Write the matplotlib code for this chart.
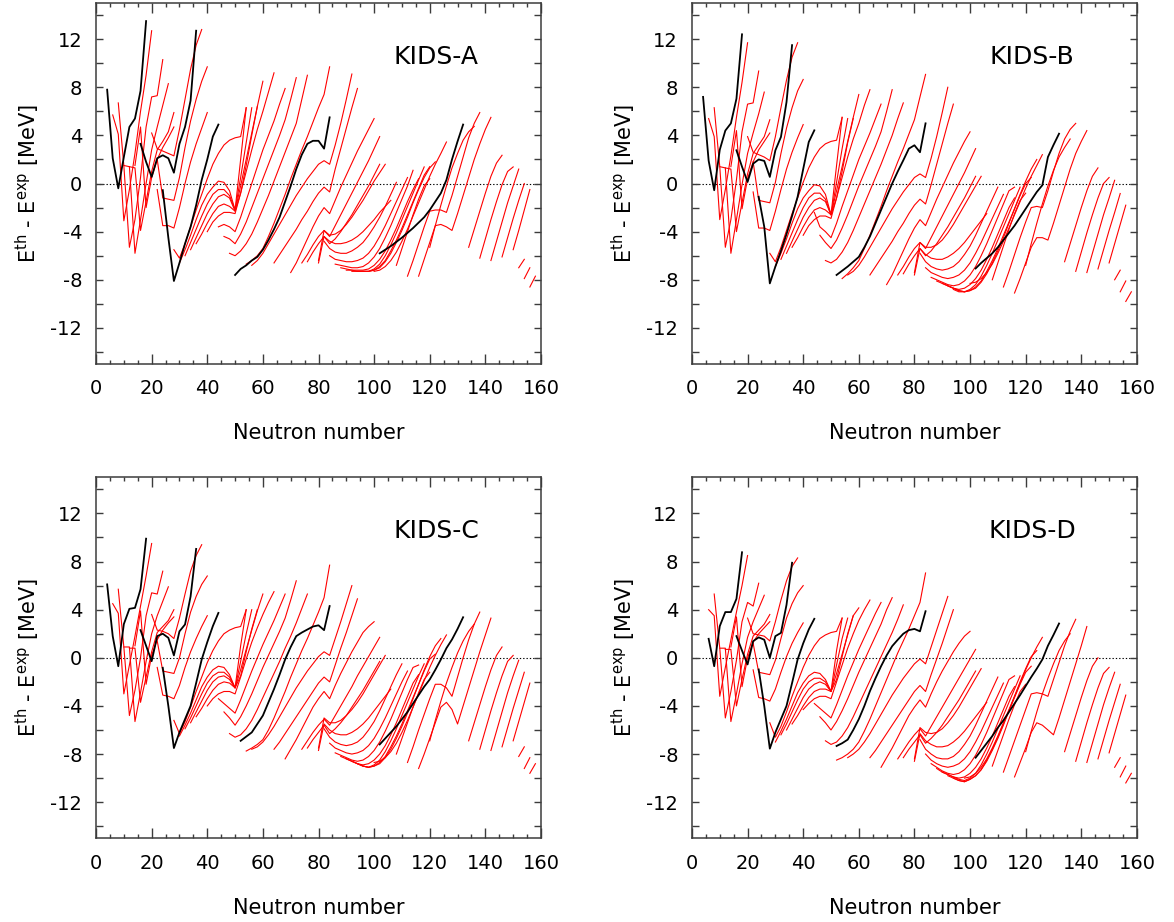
import matplotlib
matplotlib.use("Agg")
import matplotlib.pyplot as plt
from matplotlib.ticker import MultipleLocator

plt.rcParams['font.family'] = ['DejaVu Sans']
plt.rcParams['mathtext.fontset'] = 'dejavusans'

# ---------------- data: chains given as (first neutron number, energies every 2 neutrons)
x_ticks = [0, 20, 40, 60, 80, 100, 120, 140, 160]
y_ticks = [-12, -8, -4, 0, 4, 8, 12]
panel_labels = ["KIDS-A", "KIDS-B", "KIDS-C", "KIDS-D"]

black_a = [
    (4, [7.8, 2.1, -0.4, 2.2, 4.7, 5.4, 7.7, 13.5]),
    (16, [3.3, 1.8, 0.55, 2.1, 2.35, 2.1, 0.9, 3.3, 4.7, 6.9, 12.7]),
    (24, [-0.55, -4.5, -8.1, -6.6, -5.0, -3.6, -1.8, 0.3, 2.0, 3.9, 4.9]),
    (50, [-7.6, -7.1, -6.8, -6.4, -6.1, -5.5, -4.7, -3.8, -2.8, -1.5, -0.2, 1.2, 2.4, 3.3, 3.55, 3.55, 2.9, 5.5]),
    (102, [-5.8, -5.5, -5.2, -4.85, -4.5, -4.1, -3.7, -3.25, -2.8, -2.2, -1.5, -0.8, 0.3, 2.0, 3.5, 4.9]),
]
red_a = [
    (6, [5.7, 4.1, -3.1, -0.5, 2.5, 6.0, 9.0, 12.7]),
    (8, [6.7, 1.5, -5.3, -3.0, 0.5, 4.7, 7.2, 7.3, 10.3]),
    (10, [1.5, 1.4, -5.8, -3.0, 0.0, 2.8, 4.7, 6.5, 8.3]),
    (12, [1.4, 1.3, -3.9, -1.5, 1.0, 2.8, 3.5, 4.3, 5.9]),
    (14, [1.5, 4.7, -2.0, 0.5, 2.0, 3.0, 3.8, 4.7]),
    (20, [4.2, 2.9, 2.7, 2.5, 2.3, 4.5, 7.0, 9.5, 11.5, 12.8]),
    (22, [2.0, -1.2, -1.3, -1.4, 0.5, 3.0, 5.2, 7.0, 8.5, 9.7]),
    (22, [-0.5, -3.5, -3.5, -3.7, -2.0, 0.0, 1.8, 3.3, 4.6, 5.9]),
    (28, [-5.5, -6.2, -5.0, -3.6, -2.2, -0.9, 0.4, 1.6, 2.5, 3.2, 3.6, 3.8, 3.9, 6.3]),
    (30, [-6.6, -5.5, -4.3, -3.0, -1.8, -0.9, -0.3, 0.2, 0.1, -0.6, -2.2, 2.0, 6.3]),
    (32, [-6.0, -4.9, -3.8, -2.7, -1.7, -0.9, -0.5, -0.5, -1.0, -2.2, 0.5, 3.4, 6.3]),
    (34, [-5.5, -4.5, -3.5, -2.5, -1.7, -1.1, -0.9, -1.2, -2.3, -0.8, 1.5, 4.0, 6.4]),
    (36, [-5.0, -4.2, -3.3, -2.5, -1.9, -1.7, -1.9, -2.3, -0.2, 2.0, 4.2, 6.4, 8.5]),
    (40, [-4.0, -3.2, -2.7, -2.4, -2.4, -2.5, -0.8, 1.0, 2.8, 4.5, 6.0, 7.6, 9.2]),
    (44, [-3.6, -3.4, -3.6, -4.0, -2.8, -1.4, 0.0, 1.4, 2.8, 4.0, 5.2, 6.6, 7.9]),
    (46, [-4.4, -4.6, -5.0, -4.2, -3.2, -2.0, -0.8, 0.4, 1.6, 2.8, 4.0, 5.3, 7.0, 8.8]),
    (48, [-5.8, -6.0, -5.6, -5.0, -4.2, -3.2, -2.1, -1.0, 0.2, 1.4, 2.6, 3.8, 5.0, 7.0, 9.0]),
    (54, [-6.7, -6.4, -6.0, -5.4, -4.4, -3.3, -2.1, -0.9, 0.4, 1.6, 2.8, 3.9, 5.1, 6.3, 7.4, 9.7]),
    (56, [-6.8, -6.4, -5.8, -5.0, -4.2, -3.4, -2.6, -1.8, -1.0, -0.3, 0.4, 1.0, 1.6, 1.9, 1.6, 3.2, 5.0, 7.0, 9.1]),
    (64, [-6.6, -5.9, -5.2, -4.5, -3.8, -3.0, -2.3, -1.5, -0.8, -0.3, -0.7, 1.2, 2.9, 4.6, 6.3, 7.9]),
    (70, [-7.4, -6.6, -5.6, -4.6, -3.6, -2.7, -2.0, -2.5, -1.4, -0.3, 0.7, 1.7, 2.7, 3.6, 4.5, 5.4]),
    (74, [-6.6, -5.9, -5.1, -4.4, -3.9, -4.4, -3.5, -2.6, -1.7, -0.8, 0.1, 1.0, 1.9, 2.9, 3.9]),
    (76, [-6.5, -5.7, -5.0, -4.4, -5.0, -4.6, -4.0, -3.3, -2.6, -1.8, -1.0, -0.2, 0.7, 1.6]),
    (80, [-6.4, -3.9, -4.3, -4.2, -3.9, -3.4, -2.8, -2.1, -1.4, -0.6, 0.2, 0.9, 1.6]),
    (80, [-6.6, -4.4, -4.8, -5.0, -5.0, -4.9, -4.7, -4.4, -4.0, -3.5, -3.0, -2.4, -1.9, -1.4]),
    (82, [-4.8, -5.4, -5.7, -5.8, -5.8, -5.6, -5.3, -4.9, -4.3, -3.6, -2.8, -1.9, -0.9, 0.1]),
    (84, [-6.0, -6.3, -6.4, -6.5, -6.5, -6.4, -6.2, -5.8, -5.2, -4.4, -3.5, -2.5, -1.5, -0.5, 0.5]),
    (86, [-6.7, -6.8, -6.9, -7.0, -7.0, -6.9, -6.6, -6.1, -5.4, -4.5, -3.5, -2.4, -1.3, -0.2, 1.1]),
    (88, [-7.0, -7.1, -7.2, -7.2, -7.2, -7.1, -6.8, -6.3, -5.6, -4.7, -3.7, -2.6, -1.5, -0.5, 0.4]),
    (90, [-7.2, -7.2, -7.3, -7.3, -7.3, -7.1, -6.7, -6.0, -5.1, -4.1, -3.0, -1.9, -0.8, 0.3, 1.38]),
    (92, [-7.3, -7.3, -7.3, -7.3, -7.2, -6.9, -6.4, -5.6, -4.7, -3.7, -2.6, -1.5, -0.4, 0.7, 1.4]),
    (94, [-7.3, -7.3, -7.3, -7.2, -7.0, -6.5, -5.8, -4.9, -3.9, -2.8, -1.6, -0.5, 0.5, 1.3, 1.8]),
    (100, [-7.3, -7.2, -6.9, -6.4, -5.7, -4.8, -3.8, -2.7, -1.6, -0.5, 0.6, 1.6, 2.5, 3.45]),
    (108, [-6.8, -5.4, -4.0, -2.6, -1.3, -0.2, 0.4]),
    (112, [-7.7, -6.4, -5.0, -3.6, -2.3, -2.2, -2.2, -2.4, -1.0, 0.6, 2.2, 3.8, 5.0, 5.9]),
    (116, [-7.7, -6.3, -4.9, -3.5, -3.4, -3.6, -3.9, -2.5, -1.0, 0.5, 2.0, 3.3, 4.5, 5.5]),
    (120, [-5.3, -3.5, -1.8, -0.2, 1.3, 2.5, 3.6, 4.3, 4.75]),
    (134, [-5.3, -3.8, -2.3, -0.8, 0.6, 1.7, 2.35]),
    (138, [-6.2, -4.6, -3.0, -1.5, -0.1, 1.0, 1.38]),
    (142, [-6.4, -4.8, -3.2, -1.6, -0.2, 1.2]),
    (146, [-6.1, -4.5, -2.9, -1.4, 0.0]),
    (150, [-5.5, -3.9, -2.2, -0.5]),
    (152, [-7.0, -6.3]),
    (154, [-7.9, -7.0]),
    (156, [-8.6, -7.7]),
]

black_b = [
    (4, [7.2, 1.9, -0.56, 2.8, 4.4, 5.0, 7.05, 12.4]),
    (16, [2.76, 1.4, 0.13, 1.65, 2.0, 1.88, 0.55, 2.76, 3.87, 6.77, 11.5]),
    (24, [-1.1, -3.6, -8.3, -6.9, -5.6, -4.2, -2.7, -1.1, 1.2, 3.45, 4.42]),
    (52, [-7.6, -7.25, -6.9, -6.5, -6.1, -5.3, -4.4, -3.3, -2.2, -1.1, 0.0, 1.0, 1.93, 2.9, 3.18, 2.6, 5.0]),
    (102, [-7.06, -6.6, -6.2, -5.8, -5.3, -4.7, -4.1, -3.5, -2.8, -2.1, -1.39, -0.7, -0.14, 2.2, 3.2, 4.14]),
]
red_b = [
    (6, [5.4, 3.9, -3.0, -0.5, 2.3, 5.5, 8.4, 11.7]),
    (8, [6.3, 1.4, -5.3, -3.0, 0.3, 4.3, 6.6, 6.7, 9.35]),
    (10, [1.4, 1.3, -5.8, -3.0, -0.1, 2.5, 4.2, 5.8, 7.6]),
    (12, [1.3, 1.2, -4.0, -1.6, 0.8, 2.5, 3.2, 3.9, 5.3]),
    (14, [1.4, 4.4, -2.1, 0.4, 1.8, 2.8, 3.5, 4.2]),
    (20, [3.9, 2.6, 2.4, 2.2, 1.9, 3.9, 6.3, 8.6, 10.5, 11.7]),
    (22, [1.8, -1.4, -1.5, -1.6, 0.1, 2.5, 4.6, 6.3, 7.7, 8.65]),
    (22, [-0.7, -3.7, -3.7, -3.9, -2.3, -0.5, 1.2, 2.6, 3.8, 4.9]),
    (28, [-5.8, -6.5, -5.3, -3.9, -2.5, -1.2, 0.1, 1.3, 2.2, 2.9, 3.3, 3.5, 3.6, 5.5]),
    (30, [-6.9, -5.8, -4.6, -3.3, -2.1, -1.2, -0.6, -0.1, -0.2, -0.9, -2.6, 1.5, 5.5]),
    (32, [-6.3, -5.2, -4.1, -3.0, -2.0, -1.2, -0.8, -0.8, -1.3, -2.6, 0.1, 2.9, 5.4]),
    (34, [-5.8, -4.8, -3.8, -2.8, -2.0, -1.4, -1.2, -1.5, -2.6, -1.2, 1.0, 3.4, 5.4]),
    (36, [-5.3, -4.5, -3.6, -2.8, -2.2, -2.0, -2.2, -2.6, -0.6, 1.4, 3.5, 5.5, 7.4]),
    (40, [-4.3, -3.5, -3.0, -2.7, -2.7, -2.9, -1.2, 0.5, 2.2, 3.7, 5.0, 6.5, 7.8]),
    (44, [-2.4, -3.6, -4.0, -4.5, -3.3, -1.9, -0.6, 0.7, 2.0, 3.1, 4.2, 5.4, 6.6]),
    (46, [-4.3, -4.9, -5.4, -4.7, -3.7, -2.6, -1.4, -0.2, 0.9, 2.0, 3.1, 4.3, 6.0, 7.8]),
    (48, [-6.4, -6.6, -6.3, -5.7, -4.9, -3.9, -2.8, -1.7, -0.6, 0.5, 1.6, 2.8, 4.0, 5.4, 6.7]),
    (54, [-7.9, -7.5, -7.0, -6.4, -5.4, -4.3, -3.1, -1.9, -0.6, 0.6, 1.8, 2.9, 4.1, 5.3, 7.2, 9.07]),
    (56, [-7.6, -7.3, -6.8, -6.1, -5.3, -4.5, -3.7, -2.9, -2.1, -1.4, -0.7, -0.1, 0.5, 0.8, 0.5, 2.1, 3.9, 5.9, 8.0]),
    (64, [-7.6, -6.9, -6.2, -5.5, -4.8, -4.0, -3.3, -2.5, -1.8, -1.3, -1.7, -0.1, 1.6, 3.3, 5.0, 6.6]),
    (70, [-8.4, -7.6, -6.6, -5.6, -4.6, -3.7, -3.0, -3.5, -2.4, -1.3, -0.3, 0.7, 1.7, 2.6, 3.5, 4.3]),
    (74, [-7.6, -6.9, -6.1, -5.4, -4.9, -5.4, -4.5, -3.6, -2.7, -1.8, -0.9, 0.0, 0.9, 1.9, 2.9]),
    (76, [-7.5, -6.7, -6.0, -5.4, -6.0, -5.6, -5.0, -4.3, -3.6, -2.8, -2.0, -1.2, -0.3, 0.6]),
    (80, [-7.4, -4.9, -5.3, -5.3, -5.1, -4.7, -4.1, -3.4, -2.6, -1.8, -1.0, -0.2, 0.6]),
    (80, [-7.6, -5.4, -5.9, -6.2, -6.3, -6.3, -6.1, -5.8, -5.4, -4.9, -4.3, -3.7, -3.1, -2.5]),
    (82, [-5.8, -6.5, -6.9, -7.1, -7.2, -7.1, -6.9, -6.5, -5.9, -5.2, -4.3, -3.3, -2.3, -1.3, -0.3]),
    (84, [-7.0, -7.4, -7.6, -7.8, -7.9, -7.8, -7.6, -7.2, -6.6, -5.8, -4.9, -3.9, -2.9, -1.9, -0.9]),
    (86, [-7.8, -8.0, -8.2, -8.4, -8.5, -8.4, -8.1, -7.6, -6.9, -6.0, -5.0, -3.9, -2.8, -1.7, -0.6, -0.3]),
    (88, [-8.1, -8.3, -8.5, -8.7, -8.8, -8.7, -8.4, -7.9, -7.2, -6.3, -5.3, -4.2, -3.1, -2.0, -1.2]),
    (90, [-8.3, -8.5, -8.7, -8.9, -9.0, -8.8, -8.4, -7.7, -6.8, -5.8, -4.7, -3.6, -2.5, -1.4, -0.3]),
    (92, [-8.5, -8.7, -8.9, -9.0, -8.9, -8.6, -8.1, -7.3, -6.4, -5.4, -4.3, -3.2, -2.1, -1.0, 0.0, 0.5]),
    (94, [-8.8, -9.0, -9.0, -8.9, -8.7, -8.2, -7.5, -6.6, -5.6, -4.5, -3.3, -2.1, -0.9, 0.2, 1.2, 2.0]),
    (100, [-8.3, -8.2, -7.9, -7.4, -6.7, -5.8, -4.8, -3.7, -2.6, -1.5, -0.4, 0.6, 1.5, 2.4]),
    (108, [-8.0, -6.6, -5.2, -3.8, -2.5, -1.4, -0.8]),
    (112, [-8.6, -7.3, -5.9, -4.5, -3.2, -2.0, -1.9, -2.0, -0.6, 1.0, 2.5, 3.7, 4.5, 5.0]),
    (116, [-9.1, -7.9, -6.6, -5.3, -4.5, -4.5, -4.7, -3.3, -1.8, -0.3, 1.2, 2.5, 3.5, 4.4]),
    (120, [-6.8, -5.0, -3.3, -1.7, -0.2, 1.1, 2.2, 3.0, 3.7]),
    (134, [-6.5, -5.0, -3.5, -2.0, -0.6, 0.6, 1.3]),
    (138, [-7.3, -5.7, -4.1, -2.6, -1.2, 0.0, 0.5]),
    (142, [-7.4, -5.8, -4.2, -2.6, -1.2, 0.27]),
    (146, [-7.1, -5.5, -3.9, -2.4, -0.83]),
    (150, [-6.6, -5.0, -3.4, -1.8]),
    (152, [-8.0, -7.2]),
    (154, [-9.0, -8.1]),
    (156, [-9.8, -9.0]),
]

black_c = [
    (4, [6.1, 1.8, -0.7, 2.8, 4.07, 4.15, 5.7, 9.9]),
    (16, [2.3, 1.0, -0.28, 1.8, 2.0, 1.66, 0.2, 2.2, 2.77, 5.1, 9.05]),
    (24, [-0.83, -4.0, -7.5, -6.2, -5.1, -4.0, -2.1, -0.14, 1.3, 2.63, 3.73]),
    (52, [-6.9, -6.55, -6.2, -5.5, -4.8, -3.7, -2.6, -1.4, -0.14, 0.9, 1.8, 2.1, 2.35, 2.6, 2.7, 2.3, 4.3]),
    (102, [-7.2, -6.7, -6.2, -5.7, -5.1, -4.5, -3.8, -3.1, -2.4, -1.8, -1.0, -0.14, 0.8, 1.52, 2.4, 3.37]),
]
red_c = [
    (6, [4.5, 3.7, -3.0, -0.6, 1.8, 4.3, 6.8, 9.5]),
    (8, [5.7, 0.9, -4.8, -2.7, 0.0, 3.5, 5.4, 5.3, 7.2]),
    (10, [0.9, 0.9, -5.3, -2.9, -0.3, 2.0, 3.5, 4.7, 5.9]),
    (12, [0.8, 0.8, -3.7, -1.6, 0.5, 2.1, 2.6, 3.1, 4.0]),
    (14, [1.0, 3.9, -2.2, 0.2, 1.5, 2.3, 2.9, 3.4]),
    (20, [3.6, 2.3, 2.2, 2.0, 1.6, 3.3, 5.3, 7.2, 8.5, 9.4]),
    (22, [1.4, -1.1, -1.2, -1.3, 0.0, 2.0, 3.8, 5.1, 6.1, 6.8]),
    (22, [-0.8, -3.1, -3.2, -3.4, -2.3, -0.8, 0.5, 1.6, 2.6, 3.5]),
    (28, [-5.2, -6.3, -5.3, -4.1, -2.8, -1.6, -0.4, 0.6, 1.4, 2.0, 2.3, 2.5, 2.6, 4.0]),
    (30, [-6.5, -5.6, -4.6, -3.5, -2.4, -1.6, -1.0, -0.7, -0.8, -1.4, -2.5, 1.0, 4.0]),
    (32, [-5.9, -5.0, -4.0, -3.0, -2.1, -1.5, -1.2, -1.2, -1.6, -2.5, -0.3, 2.0, 4.0]),
    (34, [-5.4, -4.5, -3.6, -2.7, -2.0, -1.6, -1.5, -1.8, -2.5, -1.5, 0.5, 2.4, 4.0]),
    (36, [-4.9, -4.2, -3.4, -2.7, -2.2, -2.0, -2.1, -2.5, -1.0, 0.7, 2.3, 3.9, 5.3]),
    (40, [-4.0, -3.4, -3.0, -2.8, -2.8, -3.0, -1.6, -0.1, 1.3, 2.5, 3.6, 4.6, 5.5]),
    (44, [-3.4, -3.8, -4.2, -4.6, -3.5, -2.3, -1.1, 0.0, 1.1, 2.1, 3.1, 4.2, 5.3]),
    (46, [-4.5, -5.0, -5.6, -4.9, -4.0, -3.0, -1.9, -0.8, 0.2, 1.2, 2.2, 3.3, 4.8, 6.4]),
    (48, [-6.3, -6.6, -6.4, -5.9, -5.2, -4.3, -3.3, -2.3, -1.3, -0.3, 0.8, 1.8, 2.9, 4.1, 5.3]),
    (54, [-7.75, -7.5, -7.2, -6.8, -6.0, -5.0, -3.9, -2.8, -1.6, -0.5, 0.6, 1.6, 2.7, 3.8, 5.0, 7.7]),
    (56, [-7.6, -7.4, -7.0, -6.4, -5.7, -4.9, -4.1, -3.3, -2.5, -1.8, -1.1, -0.5, 0.1, 0.5, 0.2, 1.6, 3.0, 4.5, 6.0]),
    (64, [-7.6, -7.0, -6.3, -5.6, -4.9, -4.2, -3.5, -2.8, -2.1, -1.6, -2.0, -0.6, 0.8, 2.1, 3.5, 4.9]),
    (68, [-8.4, -7.6, -6.8, -5.9, -5.0, -4.1, -3.4, -2.8, -3.4, -2.3, -1.3, -0.4, 0.5, 1.3, 2.1, 2.6, 3.0]),
    (74, [-7.6, -6.9, -6.2, -5.6, -5.1, -5.6, -4.8, -4.0, -3.2, -2.4, -1.5, -0.7, 0.1, 0.9, 1.7]),
    (76, [-7.5, -6.8, -6.2, -5.6, -6.3, -5.9, -5.4, -4.8, -4.1, -3.4, -2.7, -1.9, -1.1, -0.3]),
    (80, [-7.5, -5.0, -5.4, -5.4, -5.2, -4.8, -4.3, -3.7, -3.0, -2.2, -1.4, -0.6, 0.2]),
    (80, [-7.7, -5.5, -6.0, -6.3, -6.4, -6.4, -6.2, -5.9, -5.5, -5.0, -4.4, -3.8, -3.2, -2.6]),
    (82, [-5.9, -6.6, -7.0, -7.2, -7.3, -7.2, -7.0, -6.6, -6.0, -5.3, -4.4, -3.4, -2.4, -1.4, -0.5]),
    (84, [-7.1, -7.5, -7.7, -7.9, -8.0, -7.9, -7.7, -7.3, -6.7, -5.9, -5.0, -4.0, -3.0, -2.0, -1.1]),
    (86, [-7.9, -8.1, -8.3, -8.5, -8.6, -8.5, -8.2, -7.7, -7.0, -6.1, -5.1, -4.0, -2.9, -1.8, -0.8, -0.6]),
    (88, [-8.2, -8.4, -8.6, -8.8, -8.9, -8.8, -8.5, -8.0, -7.3, -6.4, -5.4, -4.3, -3.2, -2.1, -1.4]),
    (90, [-8.4, -8.6, -8.8, -9.0, -9.1, -8.9, -8.5, -7.8, -6.9, -5.9, -4.8, -3.7, -2.6, -1.5, -0.5]),
    (92, [-8.6, -8.8, -9.0, -9.1, -9.0, -8.7, -8.2, -7.4, -6.5, -5.5, -4.4, -3.3, -2.2, -1.1, -0.1, 0.3]),
    (94, [-8.8, -9.0, -9.1, -9.0, -8.8, -8.3, -7.6, -6.7, -5.7, -4.6, -3.4, -2.2, -1.0, 0.1, 1.0, 1.6]),
    (100, [-8.7, -8.6, -8.3, -7.8, -7.1, -6.2, -5.2, -4.1, -3.0, -1.9, -0.8, 0.2, 1.1, 1.9]),
    (108, [-8.0, -6.7, -5.4, -4.1, -2.9, -1.8, -1.2]),
    (112, [-8.7, -7.4, -6.0, -4.7, -3.4, -2.2, -2.2, -2.5, -3.2, -1.6, 0.0, 1.5, 2.8, 3.8]),
    (116, [-9.2, -8.0, -6.7, -5.4, -4.1, -3.7, -4.3, -5.5, -4.0, -2.5, -1.0, 0.5, 1.9, 3.3]),
    (120, [-6.9, -5.2, -3.6, -2.1, -0.8, 0.4, 1.4, 2.2, 2.8]),
    (134, [-6.9, -5.4, -3.9, -2.4, -1.0, 0.2, 0.9]),
    (138, [-7.6, -6.0, -4.4, -2.9, -1.5, -0.3, 0.2]),
    (142, [-7.7, -6.1, -4.5, -2.9, -1.5, -0.2]),
    (146, [-7.4, -5.8, -4.2, -2.7, -1.2]),
    (150, [-6.9, -5.3, -3.7, -2.1]),
    (152, [-8.2, -7.4]),
    (154, [-9.2, -8.3]),
    (156, [-9.6, -8.8]),
]

black_d = [
    (6, [1.58, -0.7, 2.63, 3.8, 3.8, 4.9, 8.77]),
    (16, [1.8, 0.6, -0.55, 1.38, 1.7, 1.5, 0.0, 1.8, 2.07, 4.4, 7.9]),
    (24, [-0.97, -4.0, -7.55, -6.2, -5.1, -4.0, -2.1, -0.14, 1.2, 2.35, 3.24]),
    (52, [-7.33, -7.1, -6.8, -6.0, -5.1, -4.0, -2.77, -1.7, -0.7, 0.2, 0.97, 1.5, 2.0, 2.3, 2.4, 2.2, 3.87]),
    (102, [-8.3, -7.7, -7.1, -6.5, -5.8, -5.2, -4.5, -3.8, -3.1, -2.35, -1.6, -0.9, -0.14, 1.0, 1.9, 2.85]),
]
red_d = [
    (6, [4.0, 3.5, -3.2, -0.8, 1.5, 3.8, 6.0, 8.5]),
    (8, [5.3, 0.8, -5.0, -2.8, -0.2, 3.0, 4.6, 4.3, 6.2]),
    (10, [0.8, 0.8, -5.3, -3.0, -0.5, 1.7, 3.0, 4.1, 5.2]),
    (12, [0.7, 0.7, -4.0, -1.8, 0.3, 1.8, 2.3, 2.8, 3.6]),
    (14, [0.9, 3.4, -2.4, 0.0, 1.3, 2.0, 2.5, 3.0]),
    (20, [3.3, 2.0, 1.9, 1.8, 1.4, 3.0, 4.8, 6.4, 7.6, 8.3]),
    (22, [1.2, -1.2, -1.3, -1.4, -0.2, 1.6, 3.3, 4.5, 5.4, 6.0]),
    (22, [-1.0, -3.3, -3.4, -3.6, -2.6, -1.2, 0.1, 1.2, 2.1, 2.9]),
    (28, [-5.4, -6.6, -5.7, -4.5, -3.2, -2.0, -0.8, 0.2, 1.0, 1.6, 1.9, 2.1, 2.2, 3.3]),
    (30, [-7.0, -6.1, -5.1, -4.0, -2.9, -2.1, -1.5, -1.2, -1.3, -1.8, -2.8, 0.6, 3.3]),
    (32, [-6.4, -5.5, -4.5, -3.5, -2.6, -2.0, -1.7, -1.7, -2.0, -2.8, -0.6, 1.6, 3.3]),
    (34, [-6.0, -5.1, -4.2, -3.3, -2.6, -2.2, -2.0, -2.2, -2.8, -1.8, 0.1, 2.0, 3.5]),
    (36, [-5.5, -4.8, -4.0, -3.3, -2.8, -2.6, -2.6, -2.8, -1.3, 0.3, 1.9, 3.5, 4.15]),
    (40, [-4.3, -3.8, -3.4, -3.2, -3.2, -3.4, -2.0, -0.6, 0.8, 2.0, 3.1, 4.0, 4.8]),
    (44, [-3.8, -4.2, -4.6, -5.0, -3.9, -2.7, -1.5, -0.4, 0.7, 1.7, 2.7, 3.7, 4.6]),
    (46, [-4.9, -5.4, -6.0, -5.3, -4.4, -3.4, -2.3, -1.2, -0.2, 0.8, 1.8, 2.8, 4.0, 5.0]),
    (48, [-6.9, -7.2, -7.0, -6.5, -5.8, -4.9, -3.9, -2.9, -1.9, -0.9, 0.1, 1.1, 2.1, 3.2, 4.4]),
    (52, [-8.5, -8.3, -8.0, -7.6, -7.0, -6.1, -5.1, -4.0, -2.9, -1.8, -0.7, 0.4, 1.4, 2.4, 3.5, 4.6, 7.05]),
    (56, [-8.3, -8.0, -7.6, -7.0, -6.3, -5.5, -4.7, -3.9, -3.1, -2.4, -1.7, -1.1, -0.5, -0.1, -0.5, 0.9, 2.3, 3.7, 5.1]),
    (64, [-8.3, -7.7, -7.0, -6.3, -5.6, -4.9, -4.2, -3.5, -2.8, -2.3, -2.8, -1.4, -0.1, 1.2, 2.6, 4.0]),
    (68, [-9.1, -8.3, -7.5, -6.6, -5.7, -4.8, -4.1, -3.5, -4.1, -3.0, -2.0, -1.1, -0.3, 0.5, 1.2, 1.8, 2.2]),
    (74, [-8.4, -7.7, -7.0, -6.4, -5.9, -6.5, -5.7, -4.9, -4.1, -3.3, -2.5, -1.7, -0.9, -0.1, 0.7]),
    (76, [-8.3, -7.6, -7.0, -6.4, -7.1, -6.7, -6.2, -5.6, -4.9, -4.2, -3.5, -2.7, -1.9, -1.1]),
    (80, [-8.4, -5.8, -6.2, -6.3, -6.2, -5.9, -5.4, -4.8, -4.1, -3.3, -2.5, -1.7, -0.9]),
    (80, [-8.6, -6.3, -6.9, -7.2, -7.4, -7.4, -7.3, -7.0, -6.6, -6.1, -5.5, -4.9, -4.3, -3.7]),
    (82, [-6.8, -7.6, -8.0, -8.3, -8.4, -8.4, -8.2, -7.8, -7.2, -6.5, -5.6, -4.6, -3.6, -2.6, -1.6]),
    (84, [-8.0, -8.5, -8.8, -9.0, -9.1, -9.0, -8.8, -8.4, -7.8, -7.0, -6.1, -5.1, -4.1, -3.1, -2.1]),
    (86, [-8.8, -9.1, -9.4, -9.6, -9.7, -9.6, -9.3, -8.8, -8.1, -7.2, -6.2, -5.1, -4.0, -2.9, -1.8, -1.5]),
    (88, [-9.2, -9.5, -9.7, -9.9, -10.0, -9.9, -9.6, -9.1, -8.4, -7.5, -6.5, -5.4, -4.3, -3.2, -2.4]),
    (90, [-9.5, -9.7, -9.9, -10.1, -10.2, -10.0, -9.6, -8.9, -8.0, -7.0, -5.9, -4.8, -3.7, -2.6, -1.5]),
    (92, [-9.8, -10.0, -10.2, -10.3, -10.1, -9.8, -9.3, -8.5, -7.6, -6.6, -5.5, -4.4, -3.3, -2.2, -1.2, -0.7]),
    (94, [-10.0, -10.2, -10.3, -10.1, -9.8, -9.3, -8.6, -7.7, -6.7, -5.6, -4.4, -3.2, -2.0, -0.9, 0.1, 0.6]),
    (98, [-10.0, -9.9, -9.6, -9.1, -8.4, -7.5, -6.5, -5.4, -4.3, -3.2, -2.1, -1.0, 0.0, 0.9, 1.7]),
    (108, [-9.0, -7.7, -6.4, -5.1, -3.9, -2.8, -2.2]),
    (112, [-9.5, -8.2, -6.9, -5.6, -4.3, -3.0, -2.9, -3.0, -3.2, -1.8, -0.4, 1.0, 2.2, 3.2]),
    (116, [-9.9, -8.7, -7.5, -6.2, -5.4, -5.6, -6.0, -6.4, -5.0, -3.5, -2.0, -0.5, 1.0, 2.6]),
    (120, [-7.8, -6.1, -4.5, -3.0, -1.7, -0.5, 0.6, 1.4, 2.0]),
    (134, [-7.8, -6.3, -4.8, -3.3, -1.9, -0.7, 0.0]),
    (138, [-8.6, -7.0, -5.4, -3.9, -2.5, -1.3, -0.8]),
    (142, [-8.7, -7.1, -5.5, -3.9, -2.5, -1.2]),
    (146, [-8.4, -6.8, -5.2, -3.7, -2.2]),
    (150, [-7.9, -6.3, -4.7, -3.1]),
    (152, [-9.1, -8.3]),
    (154, [-9.9, -9.0]),
    (156, [-10.4, -9.6]),
]

# ---------------- drawing
fig = plt.figure(figsize=(11.74, 9.22), dpi=100)
positions = [
    [0.0818, 0.6052, 0.3790, 0.3915],
    [0.5894, 0.6052, 0.3790, 0.3915],
    [0.0818, 0.0908, 0.3790, 0.3915],
    [0.5894, 0.0908, 0.3790, 0.3915],
]
panels = [(black_a, red_a), (black_b, red_b), (black_c, red_c), (black_d, red_d)]

def chain_xy(chain):
    n0, es = chain
    return [n0 + 2 * i for i in range(len(es))], es

frame_color = "#3c3c3c"
for pos, label, (blacks, reds) in zip(positions, panel_labels, panels):
    ax = fig.add_axes(pos)
    ax.axhline(0, color="black", lw=0.8, ls=(0, (1.2, 1.8)), zorder=1)
    for ch in reds:
        xs, ys = chain_xy(ch)
        ax.plot(xs, ys, color="#ff0000", lw=0.8, zorder=2)
    for ch in blacks:
        xs, ys = chain_xy(ch)
        ax.plot(xs, ys, color="black", lw=1.3, zorder=3)
    ax.set_xlim(0, 160)
    ax.set_ylim(-15, 15)
    ax.set_xticks(x_ticks)
    ax.set_xticklabels([str(v) for v in x_ticks])
    ax.set_yticks(y_ticks)
    ax.set_yticklabels([str(v) for v in y_ticks])
    ax.xaxis.set_minor_locator(MultipleLocator(5))
    ax.yaxis.set_minor_locator(MultipleLocator(2))
    ax.tick_params(axis="x", which="major", direction="in", length=7, width=1.0,
                   top=True, bottom=True, labelsize=14, pad=11, color=frame_color)
    ax.tick_params(axis="x", which="minor", direction="in", length=3, width=1.0,
                   top=True, bottom=True, color=frame_color)
    ax.tick_params(axis="y", which="both", direction="in", length=5, width=1.0,
                   left=True, right=True, labelsize=14, pad=10, color=frame_color)
    for sp in ax.spines.values():
        sp.set_color(frame_color)
        sp.set_linewidth(1.1)
    ax.set_xlabel("Neutron number", fontsize=15, labelpad=18)
    ax.set_ylabel(r"E$^{\mathrm{th}}$ - E$^{\mathrm{exp}}$ [MeV]", fontsize=15, labelpad=6)
    ax.text(0.765, 0.85, label, transform=ax.transAxes, fontsize=18,
            ha="center", va="center")

fig.savefig("out.png", dpi=100)
